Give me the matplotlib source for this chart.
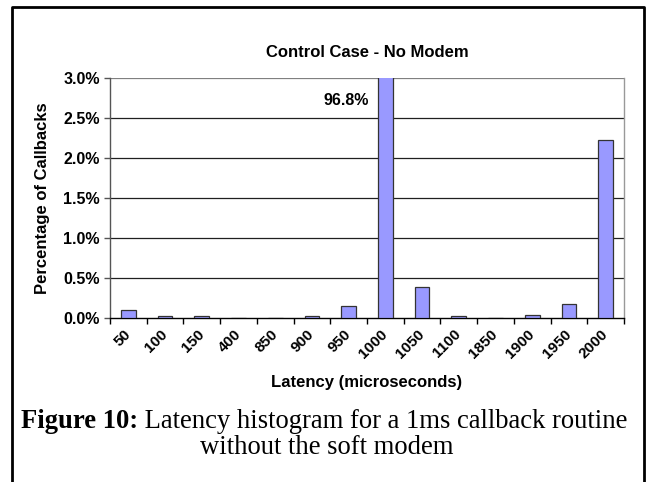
import matplotlib
matplotlib.use("Agg")
import matplotlib.pyplot as plt
from matplotlib.lines import Line2D

# Data (percent of callbacks per latency bin)
latency_bins = ["50", "100", "150", "400", "850", "900", "950", "1000",
                "1050", "1100", "1850", "1900", "1950", "2000"]
percent_callbacks = [0.10, 0.02, 0.025, 0.005, 0.005, 0.028, 0.15, 96.8,
                     0.39, 0.028, 0.005, 0.04, 0.175, 2.22]
y_ticks = [0.0, 0.5, 1.0, 1.5, 2.0, 2.5, 3.0]
peak_label = "96.8%"

sans = "Liberation Sans"
serif = "Liberation Serif"

fig = plt.figure(figsize=(6.46, 4.82), dpi=100)
ax = fig.add_axes([110 / 646, 1 - 318 / 482, 514 / 646, 240 / 482])

x = list(range(len(latency_bins)))
ax.bar(x, percent_callbacks, width=0.4, color="#9999FF",
       edgecolor="#333333", linewidth=0.9, zorder=3)

ax.set_xlim(-0.5, len(latency_bins) - 0.5)
ax.set_ylim(0, 3.0)

# grid lines
ax.set_yticks(y_ticks)
ax.set_yticklabels([f"{v:.1f}%" for v in y_ticks], fontfamily=sans,
                   fontweight="bold", fontsize=11.5)
for v in y_ticks[1:]:
    ax.axhline(v, color="#202020" if v < 3.0 else "#808080", linewidth=0.9, zorder=1)

# tick marks between categories, labels at category centres
ax.set_xticks([i - 0.5 for i in range(len(latency_bins) + 1)])
ax.set_xticklabels([])
ax.set_xticks(x, minor=True)
ax.set_xticklabels(latency_bins, minor=True, rotation=45, ha="right",
                   va="center", rotation_mode="anchor", fontfamily=sans,
                   fontweight="bold", fontsize=11)
ax.tick_params(axis="x", which="major", direction="out", length=4, width=1, color="black")
ax.tick_params(axis="x", which="minor", length=0, pad=10)
ax.tick_params(axis="y", direction="out", length=4.5, width=1, color="#555555", pad=3)

ax.spines["top"].set_visible(False)
ax.spines["right"].set_color("#999999")
ax.spines["left"].set_color("#555555")
ax.spines["bottom"].set_color("black")
for s in ax.spines.values():
    s.set_linewidth(1)

ax.text(7 - 0.45, 2.72, peak_label, ha="right", va="center",
        fontfamily=sans, fontweight="bold", fontsize=11.5)

ax.set_title("Control Case - No Modem", fontfamily=sans, fontweight="bold",
             fontsize=12, pad=15)
ax.set_ylabel("Percentage of Callbacks", fontfamily=sans, fontweight="bold",
              fontsize=12, labelpad=9)
fig.text(367 / 646, 1 - 382 / 482, "Latency (microseconds)", ha="center",
         va="center", fontfamily=sans, fontweight="bold", fontsize=12)

# caption: bold lead-in followed by regular text on the same line
renderer = fig.canvas.get_renderer()
lead = fig.text(0, 1 - 422 / 482, "Figure 10:", ha="left", va="center",
                fontfamily=serif, fontweight="bold", fontsize=19.2)
rest = fig.text(0, 1 - 422 / 482, " Latency histogram for a 1ms callback routine",
                ha="left", va="center", fontfamily=serif, fontsize=19.2)
w_lead = lead.get_window_extent(renderer).width
w_rest = rest.get_window_extent(renderer).width
x0 = (324 - (w_lead + w_rest) / 2) / 646
lead.set_x(x0)
rest.set_x(x0 + w_lead / 646)
fig.text(327 / 646, 1 - 447 / 482, "without the soft modem", ha="center",
         va="center", fontfamily=serif, fontsize=19.2)

# outer frame (open at the bottom)
fig.add_artist(Line2D([12 / 646, 12 / 646, 644 / 646, 644 / 646],
                      [-0.05, 1 - 7 / 482, 1 - 7 / 482, -0.05],
                      transform=fig.transFigure, color="black", linewidth=2))

fig.savefig("out.png", dpi=100)
